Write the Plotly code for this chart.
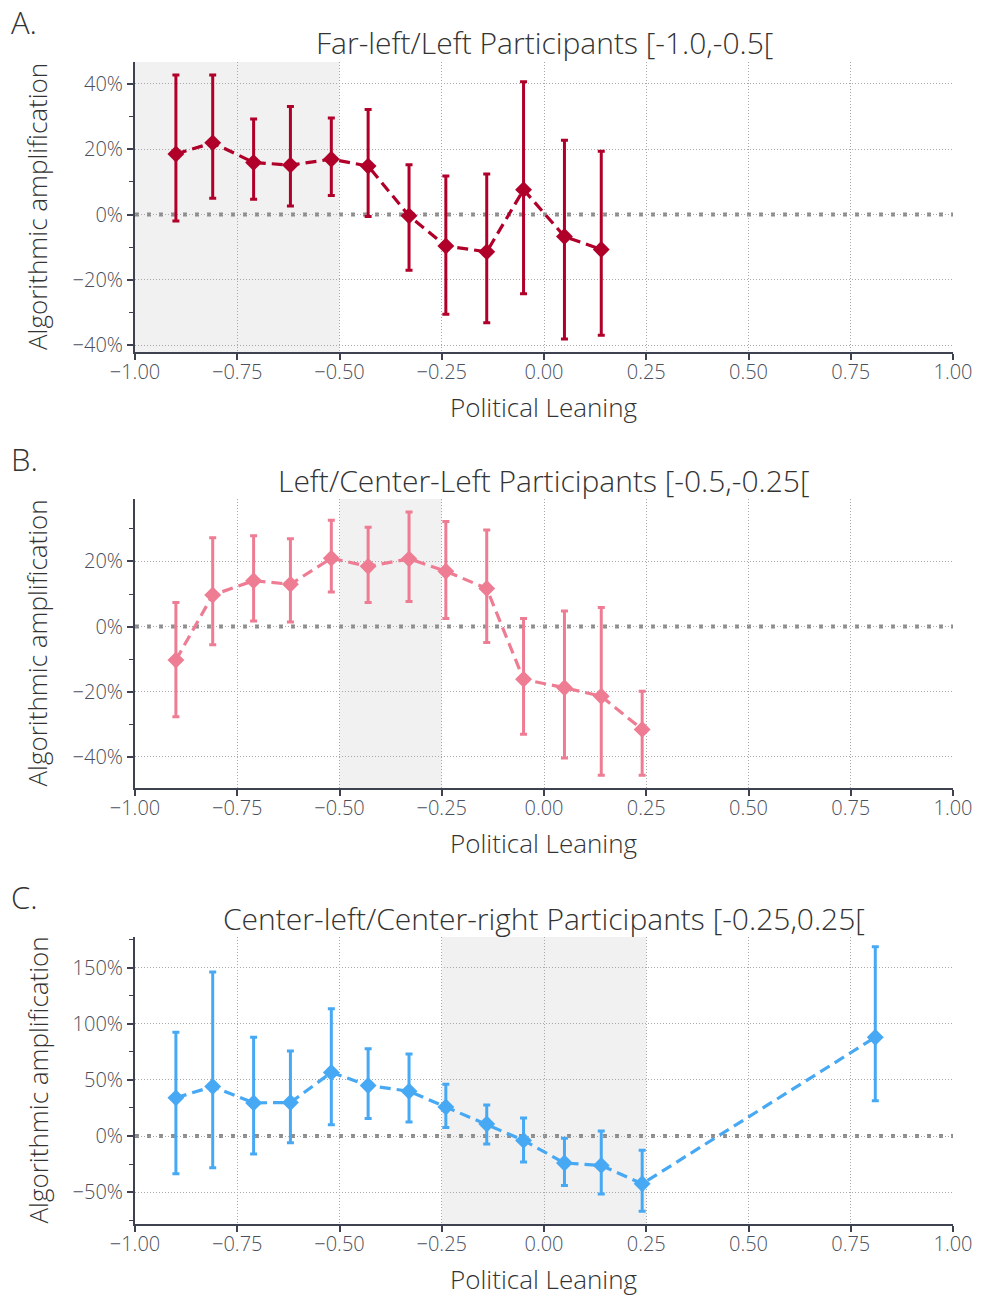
import plotly.graph_objects as go

# ---------------- data ----------------
x_A = [-0.90, -0.81, -0.71, -0.62, -0.52, -0.43, -0.33, -0.24, -0.14, -0.05, 0.05, 0.14]
y_A = [18.5, 21.9, 15.9, 15.1, 16.9, 14.8, -0.4, -9.6, -11.4, 7.6, -6.7, -10.7]
hi_A = [42.6, 42.6, 29.2, 33.0, 29.5, 32.1, 15.2, 11.8, 12.4, 40.6, 22.7, 19.3]
lo_A = [-2.0, 5.0, 4.7, 2.6, 5.8, -0.6, -17.0, -30.5, -33.1, -24.2, -38.0, -36.9]

x_B = [-0.90, -0.81, -0.71, -0.62, -0.52, -0.43, -0.33, -0.24, -0.14, -0.05, 0.05, 0.14, 0.24]
y_B = [-10.3, 9.7, 14.1, 13.0, 21.0, 18.5, 20.8, 17.0, 11.7, -16.2, -18.8, -21.4, -31.6]
hi_B = [7.4, 27.3, 27.9, 27.0, 32.7, 30.5, 35.2, 32.3, 29.7, 2.5, 4.8, 5.9, -19.9]
lo_B = [-27.7, -5.6, 1.7, 1.4, 10.6, 7.4, 7.7, 2.5, -4.9, -33.1, -40.4, -45.7, -45.7]

x_C = [-0.90, -0.81, -0.71, -0.62, -0.52, -0.43, -0.33, -0.24, -0.14, -0.05, 0.05, 0.14, 0.24, 0.81]
y_C = [34.0, 44.1, 29.5, 29.8, 56.6, 45.0, 39.9, 25.9, 10.7, -3.9, -24.1, -26.2, -42.6, 88.0]
hi_C = [92.4, 146.1, 87.9, 75.7, 113.3, 77.8, 73.0, 46.2, 27.7, 16.1, -2.1, 4.5, -12.8, 168.6]
lo_C = [-33.7, -28.3, -16.1, -6.0, 10.1, 15.5, 12.5, 7.5, -7.2, -23.2, -44.1, -51.6, -67.1, 31.3]

titles = ["Far-left/Left Participants [-1.0,-0.5[",
          "Left/Center-Left Participants [-0.5,-0.25[",
          "Center-left/Center-right Participants [-0.25,0.25["]
letters = ["A.", "B.", "C."]
shade = [(-1.0, -0.5), (-0.5, -0.25), (-0.25, 0.25)]
colors = ["#B0002A", "#EE7C93", "#47A9F4"]

x_ticks = [-1.0, -0.75, -0.5, -0.25, 0.0, 0.25, 0.5, 0.75, 1.0]
x_ticktext = ["\u22121.00", "\u22120.75", "\u22120.50", "\u22120.25", "0.00", "0.25", "0.50", "0.75", "1.00"]
y_ticks_A = [-40, -20, 0, 20, 40]
y_ticks_B = [-40, -20, 0, 20]
y_ticks_C = [-50, 0, 50, 100, 150]
y_ranges = [[-42.0, 46.6], [-49.6, 39.2], [-78.4, 177.3]]
y_minor = [10, 10, 25]

# ---------------- layout helpers ----------------
W, H = 982, 1297
FONT = "Open Sans"
TXT = "#333333"
AX = "#3d4150"


def px_x(p):
    return p / W


def px_y(p):
    return 1 - p / H


panels_px = [(62, 352), (499, 788), (937, 1224)]
xdom = [px_x(135), px_x(953)]

fig = go.Figure()

series = [(x_A, y_A, hi_A, lo_A, y_ticks_A), (x_B, y_B, hi_B, lo_B, y_ticks_B),
          (x_C, y_C, hi_C, lo_C, y_ticks_C)]

annotations = []
shapes = []
for i, (xs, ys, his, los, yt) in enumerate(series):
    n = "" if i == 0 else str(i + 1)
    xa, ya = "x" + n, "y" + n
    top, bot = panels_px[i]
    fig.add_trace(go.Scatter(
        x=xs, y=ys, xaxis=xa, yaxis=ya, mode="lines+markers",
        line=dict(color=colors[i], width=3.2, dash="11px,6px"),
        marker=dict(symbol="diamond", size=13, color=colors[i]),
        error_y=dict(type="data", symmetric=False,
                     array=[h - v for h, v in zip(his, ys)],
                     arrayminus=[v - l for v, l in zip(ys, los)],
                     color=colors[i], thickness=3, width=3.5),
        showlegend=False, cliponaxis=False))
    ax_common = dict(showline=True, linecolor=AX, linewidth=2, ticks="outside",
                     ticklen=6, tickwidth=1.5, tickcolor=AX, showgrid=True,
                     gridcolor="#a8a8a8", griddash="1px,2px", gridwidth=1, zeroline=False,
                     automargin=False,
                     tickfont=dict(family=FONT, size=20, color="#4a4f5c", weight=300))
    fig.update_layout(**{
        ("xaxis" + n): dict(domain=xdom, range=[-1.0, 1.0], anchor=ya,
                            tickvals=x_ticks, ticktext=x_ticktext,
                            ticklabelstandoff=-5, **ax_common),
        ("yaxis" + n): dict(domain=[px_y(bot), px_y(top)], range=y_ranges[i], anchor=xa,
                            tickvals=yt,
                            ticktext=[("\u2212" + str(abs(v)) if v < 0 else str(v)) + "%" for v in yt],
                            minor=dict(dtick=y_minor[i], ticks="outside", ticklen=4,
                                       tickwidth=1.2, tickcolor=AX, showgrid=False),
                            **ax_common),
    })
    shapes.append(dict(type="rect", xref=xa, yref=ya + " domain", x0=shade[i][0], x1=shade[i][1],
                       y0=0, y1=1, fillcolor="#f1f1f1", line=dict(width=0), layer="below"))
    shapes.append(dict(type="line", xref=xa + " domain", yref=ya, x0=0, x1=1, y0=0, y1=0,
                       line=dict(color="#8e8e8e", width=4, dash="4px,8px"), layer="below"))
    # titles and labels
    annotations.append(dict(text=titles[i], xref="paper", yref="paper", x=px_x(544),
                            y=px_y(top - 19), xanchor="center", yanchor="middle", showarrow=False,
                            font=dict(family=FONT, size=30, color=TXT, weight=300)))
    annotations.append(dict(text=letters[i], xref="paper", yref="paper", x=px_x(9),
                            y=px_y(top - 40), xanchor="left", yanchor="middle", showarrow=False,
                            font=dict(family=FONT, size=31, color=TXT, weight=300)))
    annotations.append(dict(text="Political Leaning", xref="paper", yref="paper", x=px_x(544),
                            y=px_y(bot + 55), xanchor="center", yanchor="middle", showarrow=False,
                            font=dict(family=FONT, size=26, color=TXT, weight=300)))
    annotations.append(dict(text="Algorithmic amplification", xref="paper", yref="paper",
                            x=px_x(37), y=px_y((top + bot) / 2), xanchor="center",
                            yanchor="middle", textangle=-90, showarrow=False,
                            font=dict(family=FONT, size=26, color=TXT, weight=300)))

fig.update_layout(width=W, height=H, autosize=False,
                  margin=dict(l=0, r=0, t=0, b=0),
                  paper_bgcolor="white", plot_bgcolor="white",
                  shapes=shapes, annotations=annotations)

fig.write_html("out.html", config={"displayModeBar": False},
               post_script="document.body.style.margin='0';")
